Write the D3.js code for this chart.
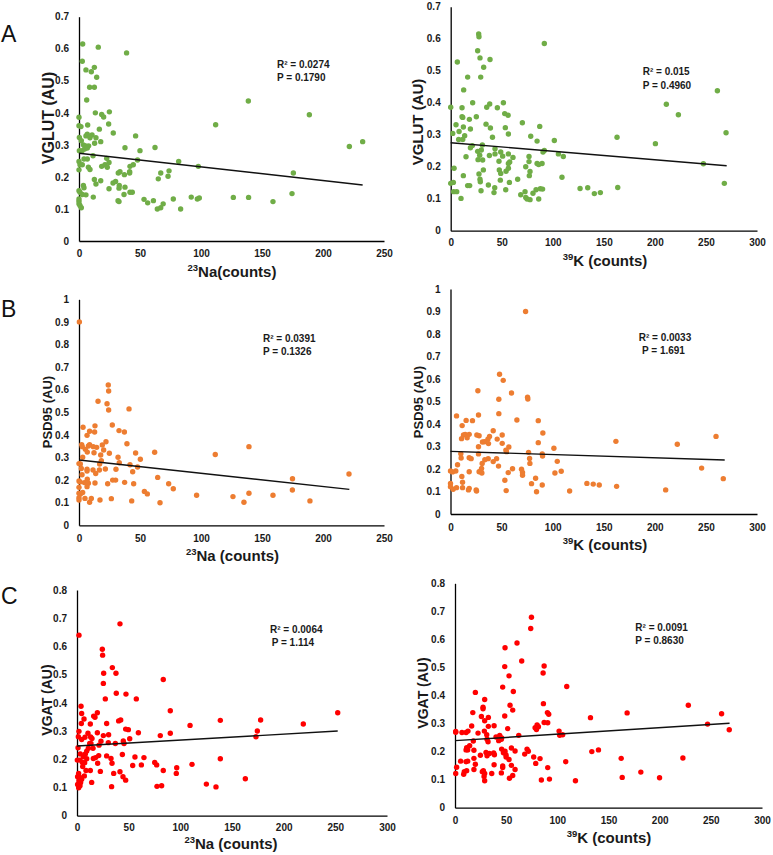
<!DOCTYPE html>
<html>
<head>
<meta charset="utf-8">
<script src="https://cdn.jsdelivr.net/npm/d3@7/dist/d3.min.js"></script>
<style>
  html, body { margin: 0; padding: 0; background: #fff; }
  svg { display: block; font-family: "Liberation Sans", Arial, sans-serif; }
</style>
</head>
<body>
<svg id="chart" width="773" height="855"></svg>
<script>
// ---------------- DATA ----------------
const naTicksAB = [0, 50, 100, 150, 200, 250];
const naTicksC = [0, 50, 100, 150, 200, 250, 300];
const kTicks = [0, 50, 100, 150, 200, 250, 300];
const yTicks07 = [0, 0.1, 0.2, 0.3, 0.4, 0.5, 0.6, 0.7];
const yTicks10 = [0, 0.1, 0.2, 0.3, 0.4, 0.5, 0.6, 0.7, 0.8, 0.9, 1];
const yTicks08 = [0, 0.1, 0.2, 0.3, 0.4, 0.5, 0.6, 0.7, 0.8];

// VGLUT vs 23Na  [x, y]
const vglutNa = [
[3,0.615],[15.8,0.605],[2.7,0.561],[5.7,0.534],[12.6,0.542],[10.1,0.528],[14.5,0.511],[8.7,0.48],[12.6,0.48],[39,0.587],
[6.3,0.44],[0,0.386],[0,0.36],[1.6,0.357],[7.1,0.362],[13.4,0.40],[18.6,0.395],[20.2,0.387],[24.9,0.403],[24.3,0.365],
[16.7,0.349],[28.1,0.337],[0.3,0.323],[5.7,0.328],[6.8,0.333],[9,0.322],[10.7,0.331],[13.9,0.322],[12.8,0.305],[17.8,0.31],
[1.9,0.313],[3.6,0.30],[5.5,0.297],[7.9,0.297],[0.3,0.282],[2.5,0.282],[4.6,0.287],[6.8,0.29],[37.7,0.291],[46.4,0.328],
[50,0.282],[62.3,0.292],[11.5,0.266],[0,0.248],[0.8,0.238],[2.7,0.238],[4.1,0.256],[6.8,0.256],[7.7,0.23],[9,0.223],
[0,0.222],[22.7,0.258],[18.6,0.233],[21.3,0.238],[23.2,0.23],[24.6,0.245],[41.8,0.233],[44.5,0.238],[48,0.253],[41.5,0.216],
[41.5,0.212],[33.6,0.216],[32.2,0.212],[37.2,0.207],[12.6,0.192],[17.8,0.188],[13.9,0.178],[30,0.186],[27.9,0.181],[33,0.173],
[32.8,0.165],[37.7,0.168],[24.6,0.163],[3.6,0.173],[4.1,0.166],[0,0.157],[0.8,0.152],[2.7,0.145],[5.7,0.144],[41.8,0.152],
[43.7,0.152],[36.9,0.145],[11.7,0.137],[0,0.131],[0,0.124],[0,0.116],[0.8,0.111],[1.9,0.104],[32,0.126],[32.8,0.123],
[53.3,0.13],[56.3,0.119],[61,0.126],[65,0.194],[67,0.212],[73,0.202],[73.8,0.219],[64.2,0.10],[67,0.104],[69,0.116],
[77.3,0.131],[81.7,0.248],[83.3,0.10],[92,0.137],[97,0.131],[98.6,0.134],[97.8,0.233],[112,0.363],[126.5,0.136],[138.8,0.437],
[139,0.136],[159,0.123],[174.6,0.148],[175.7,0.212],[188.8,0.394],[221.6,0.295],[232.5,0.31]
];

// VGLUT vs 39K
const vglutK = [
[27.4,0.615],[27.7,0.606],[91.7,0.585],[26.4,0.5625],[28.7,0.54],[38.5,0.535],[6.5,0.527],[32.3,0.511],[16.6,0.48],[29.4,0.48],
[12.7,0.44],[21.5,0.40],[51.6,0.40],[0,0.386],[11.1,0.384],[35.3,0.386],[38.2,0.396],[45.7,0.384],[11.1,0.356],[11.8,0.354],
[25.1,0.356],[18.3,0.348],[52.9,0.366],[56.2,0.361],[34.6,0.333],[5.2,0.331],[12.4,0.324],[19.3,0.318],[38.9,0.321],[53.5,0.322],
[70.2,0.3375],[87.2,0.326],[8.2,0.31],[2,0.304],[13.7,0.297],[11.8,0.285],[7.8,0.285],[56.5,0.302],[40.9,0.292],[78.4,0.295],
[84.6,0.28],[101.5,0.282],[162.9,0.292],[31,0.268],[21.2,0.266],[19.3,0.259],[26.4,0.248],[30,0.252],[43.4,0.256],[49,0.246],
[91.7,0.251],[90.4,0.246],[200.5,0.272],[15,0.231],[28.4,0.236],[37.9,0.235],[43.4,0.24],[50.9,0.233],[56.5,0.24],[61,0.229],
[76.7,0.232],[105.5,0.24],[110.3,0.232],[26.8,0.222],[31.3,0.221],[47.3,0.217],[57.8,0.215],[56.5,0.21],[76.7,0.216],[84.6,0.21],
[86.2,0.207],[89.5,0.21],[247.5,0.209],[3.3,0.195],[32,0.19],[27.7,0.177],[47.6,0.19],[49,0.179],[54.2,0.186],[56.5,0.195],
[73.5,0.2],[77.7,0.185],[77,0.172],[12.4,0.172],[28.7,0.161],[29,0.153],[48.6,0.158],[57.5,0.151],[65.6,0.161],[109,0.167],
[0,0.148],[2.6,0.151],[16.6,0.141],[18.6,0.141],[36.9,0.143],[43.1,0.134],[53.9,0.128],[29.7,0.125],[2.9,0.122],[5.9,0.122],
[42.4,0.119],[68.6,0.1125],[72.8,0.122],[73.5,0.104],[74.8,0.099],[77.7,0.097],[80.6,0.117],[83.6,0.128],[86.2,0.099],[87.8,0.131],
[90,0.13],[10.1,0.101],[126.7,0.132],[134.2,0.134],[140.7,0.116],[146.6,0.119],[163.6,0.135],[268,0.148],[223,0.3625],[211.2,0.395],
[261.2,0.4375],[269.7,0.306]
];

// PSD95 vs 23Na
const psdNa = [
[0.3,0.90],[24,0.621],[24.3,0.594],[15.6,0.549],[23,0.538],[24.3,0.51],[41,0.515],[27.3,0.444],[3.3,0.434],[13.1,0.44],
[12.8,0.413],[8.7,0.416],[32.8,0.419],[37.2,0.413],[6.6,0.398],[22.1,0.37],[39.3,0.361],[2.2,0.357],[2.7,0.348],[5.2,0.336],
[7.7,0.351],[8.7,0.357],[11.7,0.348],[14.5,0.345],[19.1,0.355],[20.2,0.333],[6.8,0.324],[12.3,0.321],[24.9,0.319],[32,0.301],
[46.4,0.32],[62,0.323],[3,0.301],[17.8,0.311],[0,0.273],[1.1,0.271],[18.3,0.286],[16.9,0.271],[33,0.277],[41.8,0.268],
[50.3,0.292],[48,0.258],[1.9,0.251],[6.6,0.248],[6.6,0.24],[11.5,0.245],[16.7,0.245],[21.6,0.249],[30.3,0.248],[44,0.237],
[13.7,0.229],[2.5,0.224],[0,0.196],[0.8,0.192],[4.4,0.189],[6.8,0.204],[7.7,0.186],[6.6,0.171],[13.1,0.187],[23.5,0.184],
[27.6,0.2],[30,0.2],[37.4,0.19],[44.8,0.184],[64.5,0.212],[73.5,0.184],[77.3,0.162],[0,0.168],[0,0.142],[1.1,0.139],
[3,0.145],[4.9,0.119],[10.1,0.119],[0,0.122],[0,0.112],[8.7,0.102],[17.2,0.112],[26.5,0.118],[43.2,0.108],[53.6,0.15],
[56,0.139],[66.4,0.10],[96.4,0.133],[111.7,0.313],[126.2,0.127],[135.2,0.102],[139.3,0.348],[139.3,0.142],[159,0.133],[175,0.206],
[174.9,0.156],[189.3,0.108],[221.3,0.227]
];

// PSD95 vs 39K
const psdK = [
[73.5,0.90],[48,0.621],[51.6,0.594],[26.8,0.548],[59.7,0.538],[75.4,0.519],[75.7,0.511],[47.3,0.51],[47.3,0.446],[27.4,0.44],
[5.9,0.436],[65,0.418],[85.9,0.415],[21.5,0.415],[15.3,0.416],[11.4,0.393],[41.8,0.37],[90.4,0.36],[12.7,0.351],[14.4,0.354],
[18.3,0.354],[25.8,0.351],[28,0.348],[50.6,0.351],[38.2,0.345],[16.3,0.339],[10.8,0.335],[36.6,0.332],[45.7,0.333],[31.3,0.32],
[33.3,0.321],[37.2,0.313],[50.6,0.314],[85.9,0.317],[161.9,0.323],[222,0.31],[259.9,0.345],[27.4,0.299],[57.1,0.298],[101.2,0.292],
[54.2,0.284],[54.8,0.277],[76.4,0.274],[89.8,0.267],[90.1,0.258],[10.1,0.268],[27.4,0.267],[10.4,0.249],[18.3,0.25],[20.2,0.246],
[36.9,0.246],[33.6,0.241],[45.1,0.246],[77.4,0.247],[41.8,0.233],[31,0.225],[77.7,0.225],[104.5,0.234],[6.9,0.219],[47,0.213],
[69.5,0.199],[60.7,0.201],[30.4,0.203],[29.7,0.191],[28,0.188],[30.7,0.182],[18.3,0.188],[0,0.191],[2,0.187],[5.2,0.191],
[56.5,0.184],[70.5,0.185],[70.5,0.172],[102.2,0.182],[108.4,0.19],[11.1,0.167],[83.3,0.159],[53.2,0.15],[0,0.136],[11.8,0.141],
[79.3,0.135],[89.8,0.129],[133.5,0.136],[139.7,0.133],[145.6,0.129],[162.6,0.123],[0,0.121],[5.9,0.117],[2.6,0.11],[11.8,0.117],
[18.3,0.114],[17.6,0.107],[25.1,0.107],[25.5,0.102],[54.5,0.104],[84.2,0.099],[116.6,0.102],[210.6,0.107],[245.8,0.204],[267,0.157]
];

// VGAT vs 23Na
const vgatNa = [
[1.9,0.64],[41.6,0.68],[24.5,0.59],[24.8,0.569],[34.2,0.525],[37.7,0.505],[25.8,0.505],[25.5,0.469],[27.4,0.414],[38,0.434],
[47.4,0.431],[57.4,0.414],[83.5,0.483],[90.3,0.372],[3.9,0.388],[4.5,0.362],[19.7,0.365],[16.1,0.353],[17.4,0.349],[6.8,0.343],
[4.2,0.327],[12.9,0.325],[28.7,0.327],[40.3,0.336],[42.3,0.339],[47.1,0.307],[49.7,0.305],[59.4,0.294],[90.3,0.292],[109.4,0.32],
[138.7,0.338],[177.7,0.339],[174.5,0.30],[173.2,0.28],[219,0.325],[252.3,0.365],[80.6,0.284],[1.9,0.299],[10.6,0.292],[19.7,0.294],
[30.6,0.287],[25.5,0.284],[1.3,0.28],[4.5,0.27],[7.7,0.278],[13.2,0.279],[14.5,0.274],[51,0.273],[37.1,0.256],[44.8,0.265],
[45.5,0.256],[1,0.241],[12.3,0.256],[13.5,0.256],[21.3,0.25],[23.2,0.264],[30.3,0.259],[11,0.239],[15.5,0.239],[9.4,0.229],
[8.1,0.219],[3.2,0.219],[6.1,0.209],[0.3,0.197],[2.9,0.197],[5.2,0.189],[7.4,0.188],[9.4,0.202],[15.8,0.203],[21,0.213],
[18,0.206],[20,0.186],[28.7,0.212],[32.9,0.203],[33.9,0.186],[43.9,0.217],[56.1,0.208],[64.8,0.206],[62.3,0.18],[53.9,0.178],
[75.2,0.189],[77.1,0.18],[83.5,0.16],[96.5,0.17],[96.1,0.15],[111.3,0.182],[138.7,0.202],[5.5,0.174],[8.7,0.16],[12.9,0.16],
[22.6,0.157],[41.6,0.156],[35.5,0.15],[1.6,0.15],[0.6,0.138],[2.9,0.136],[7.1,0.141],[44.5,0.138],[47.1,0.126],[1.9,0.124],
[4.5,0.129],[3.5,0.118],[14.2,0.118],[0.6,0.111],[2.9,0.106],[1.6,0.099],[33.5,0.103],[77.4,0.104],[81.9,0.106],[125.2,0.112],
[134.5,0.102],[162.9,0.131]
];

// VGAT vs 39K
const vgatK = [
[74.7,0.679],[74,0.639],[60.6,0.587],[48.9,0.57],[65.2,0.523],[87.1,0.505],[48.6,0.503],[86.1,0.48],[52.8,0.47],[109.2,0.432],
[46.6,0.43],[57,0.414],[19.9,0.411],[29,0.386],[86.4,0.371],[53.8,0.365],[27.4,0.358],[27.4,0.353],[56.4,0.348],[17.4,0.339],
[90.3,0.339],[91.6,0.333],[168.2,0.338],[228,0.365],[260.5,0.335],[48.6,0.327],[25.8,0.325],[32.6,0.322],[132.4,0.321],[16.3,0.291],
[29,0.31],[38.2,0.292],[32.6,0.29],[87.1,0.304],[90.6,0.303],[80.2,0.295],[78.3,0.285],[79.6,0.279],[81.5,0.289],[51.5,0.282],
[246.8,0.298],[268,0.278],[0.7,0.272],[0.7,0.269],[6.8,0.268],[10.8,0.268],[12.7,0.273],[22.5,0.266],[28.7,0.273],[31,0.26],
[62.3,0.258],[101.7,0.273],[102.3,0.258],[105.2,0.26],[40.1,0.252],[43.7,0.258],[45.6,0.249],[42.7,0.239],[45.3,0.244],[31.3,0.244],
[32.3,0.235],[17.9,0.238],[14.3,0.221],[11.4,0.214],[12.4,0.206],[18.5,0.205],[10.8,0.206],[45.6,0.209],[48.9,0.201],[55.1,0.213],
[58.7,0.202],[70.4,0.209],[71.7,0.201],[30.3,0.197],[33.6,0.193],[37.8,0.195],[31.3,0.185],[38.5,0.189],[24.8,0.187],[47.3,0.196],
[49.9,0.188],[49.9,0.181],[52.8,0.172],[18.5,0.176],[68.1,0.191],[76.9,0.181],[83.1,0.175],[133.7,0.2],[140.2,0.206],[162.4,0.176],
[222.7,0.177],[5.5,0.166],[10.8,0.164],[12.4,0.166],[19.9,0.155],[78.9,0.158],[108.2,0.164],[1.6,0.144],[38.2,0.153],[46.6,0.149],
[46.6,0.143],[55.1,0.151],[58.7,0.136],[18.5,0.136],[90.6,0.143],[9.1,0.128],[11.4,0.132],[8.5,0.119],[0.7,0.122],[26.7,0.128],
[27.7,0.132],[29,0.122],[28.4,0.111],[35.9,0.122],[45.3,0.124],[56.4,0.115],[29,0.096],[53.2,0.105],[84.4,0.099],[92.3,0.102],
[117.7,0.096],[163.4,0.108],[181.6,0.127],[199.9,0.107]
];

// Linear trend lines: [intercept, slope, x end]
const trendVglutNa = [0.274, -0.000426, 232.5];
const trendVglutK  = [0.275, -0.000266, 270.3];
const trendPsdNa   = [0.289, -0.000587, 221.6];
const trendPsdK    = [0.2785, -0.000143, 268.4];
const trendVgatNa  = [0.247, 0.00021, 252.3];
const trendVgatK   = [0.239, 0.000231, 268.3];

// Statistics labels
const statsVglutNa = ["R² = 0.0274", "P = 0.1790"];
const statsVglutK  = ["R² = 0.015", "P = 0.4960"];
const statsPsdNa   = ["R² = 0.0391", "P = 0.1326"];
const statsPsdK    = ["R² = 0.0033", "P = 1.691"];
const statsVgatNa  = ["R² = 0.0064", "P = 1.114"];
const statsVgatK   = ["R² = 0.0091", "P = 0.8630"];

const colGreen = "#70AD47", colOrange = "#ED7D31", colRed = "#FF0000";

// ---------------- LAYOUT ----------------
const panels = [
  { pts: vglutNa, trend: trendVglutNa, stats: statsVglutNa, color: colGreen,
    xT: naTicksAB, yT: yTicks07, iso: "23", el: "Na", gap: "",
    yLab: "VGLUT (AU)", yLabSize: 16,
    px: [79, 384], py: [241, 16.7], tickY: 253, xTitleX: 232, xTitleY: 277, yTitleX: 48, yTitleY: 118,
    sx: [277, 277], sy: [68, 81], letter: "A", letterY: 42 },
  { pts: vglutK, trend: trendVglutK, stats: statsVglutK, color: colGreen,
    xT: kTicks, yT: yTicks07, iso: "39", el: "K", gap: " ",
    yLab: "VGLUT (AU)", yLabSize: 15,
    px: [450.7, 757], py: [230.7, 6.7], tickY: 243, xTitleX: 605, xTitleY: 266, yTitleX: 418, yTitleY: 122,
    sx: [642.7, 642.7], sy: [75, 88.6] },
  { pts: psdNa, trend: trendPsdNa, stats: statsPsdNa, color: colOrange,
    xT: naTicksAB, yT: yTicks10, iso: "23", el: "Na", gap: " ",
    yLab: "PSD95 (AU)", yLabSize: 13,
    px: [79, 384], py: [525.3, 299.3], tickY: 538.5, xTitleX: 232.5, xTitleY: 561, yTitleX: 47, yTitleY: 412,
    sx: [263, 263], sy: [342, 354.6], letter: "B", letterY: 317 },
  { pts: psdK, trend: trendPsdK, stats: statsPsdK, color: colOrange,
    xT: kTicks, yT: yTicks10, iso: "39", el: "K", gap: " ",
    yLab: "PSD95 (AU)", yLabSize: 13,
    px: [450.5, 757], py: [514, 289], tickY: 527.5, xTitleX: 605, xTitleY: 550, yTitleX: 418, yTitleY: 402,
    sx: [638.7, 642], sy: [341, 354.3] },
  { pts: vgatNa, trend: trendVgatNa, stats: statsVgatNa, color: colRed,
    xT: naTicksC, yT: yTicks08, iso: "23", el: "Na", gap: " ",
    yLab: "VGAT (AU)", yLabSize: 14,
    px: [77, 387], py: [815.7, 590], tickY: 827.5, xTitleX: 231, xTitleY: 849, yTitleX: 47, yTitleY: 700,
    sx: [270, 271.7], sy: [633, 646.3], letter: "C", letterY: 604 },
  { pts: vgatK, trend: trendVgatK, stats: statsVgatK, color: colRed,
    xT: kTicks, yT: yTicks08, iso: "39", el: "K", gap: " ",
    yLab: "VGAT (AU)", yLabSize: 14,
    px: [455, 762], py: [807.7, 583.3], tickY: 821, xTitleX: 609, xTitleY: 843, yTitleX: 423, yTitleY: 693,
    sx: [635.3, 635.3], sy: [631, 643.6] }
];

const svg = d3.select("#chart");
const fmt = d => String(d);

panels.forEach(p => {
  const g = svg.append("g");
  const x = d3.scaleLinear().domain([0, d3.max(p.xT)]).range(p.px);
  const y = d3.scaleLinear().domain([0, d3.max(p.yT)]).range(p.py);

  // axes
  const xa = g.append("g").attr("transform", `translate(0,${p.py[0]})`)
    .call(d3.axisBottom(x).tickValues(p.xT).tickFormat(fmt).tickSize(0).tickSizeOuter(0)
      .tickPadding(p.tickY - p.py[0] - 3.6));
  const ya = g.append("g").attr("transform", `translate(${p.px[0]},0)`)
    .call(d3.axisLeft(y).tickValues(p.yT).tickFormat(fmt).tickSize(0).tickSizeOuter(0).tickPadding(10));
  [xa, ya].forEach(a => {
    a.select(".domain").attr("stroke", "#000").attr("stroke-width", 1.3);
    a.selectAll("text").attr("font-family", "'Liberation Sans', Arial, sans-serif")
      .attr("font-weight", "bold").attr("font-size", 10).attr("fill", "#1a1a1a");
  });

  // points
  g.append("g").selectAll("circle").data(p.pts).join("circle")
    .attr("cx", d => x(d[0])).attr("cy", d => y(d[1])).attr("r", 2.7)
    .attr("fill", p.color);

  // trend line
  const [b0, b1, xe] = p.trend;
  g.append("line")
    .attr("x1", x(0)).attr("y1", y(b0))
    .attr("x2", x(xe)).attr("y2", y(b0 + b1 * xe))
    .attr("stroke", "#111").attr("stroke-width", 1.4);

  // stats
  p.stats.forEach((s, i) => {
    g.append("text").attr("x", p.sx[i]).attr("y", p.sy[i]).text(s)
      .attr("font-size", 10).attr("font-weight", "bold").attr("fill", "#1a1a1a");
  });

  // x title
  const xt = g.append("text").attr("x", p.xTitleX).attr("y", p.xTitleY)
    .attr("text-anchor", "middle").attr("font-weight", "bold").attr("font-size", 15).attr("fill", "#1a1a1a");
  xt.append("tspan").attr("font-size", 9.5).attr("dy", -6).text(p.iso);
  xt.append("tspan").attr("dy", 6).text(p.el + p.gap + "(counts)");

  // y title
  g.append("text")
    .attr("transform", `translate(${p.yTitleX},${p.yTitleY}) rotate(-90)`)
    .attr("text-anchor", "middle").attr("dy", "0.35em")
    .attr("font-weight", "bold").attr("font-size", p.yLabSize).attr("fill", "#1a1a1a")
    .text(p.yLab);

  if (p.letter) {
    svg.append("text").attr("x", 1).attr("y", p.letterY).text(p.letter)
      .attr("font-size", 23).attr("fill", "#111").attr("font-family", "'Liberation Sans', Arial, sans-serif");
  }
});
</script>
</body>
</html>
